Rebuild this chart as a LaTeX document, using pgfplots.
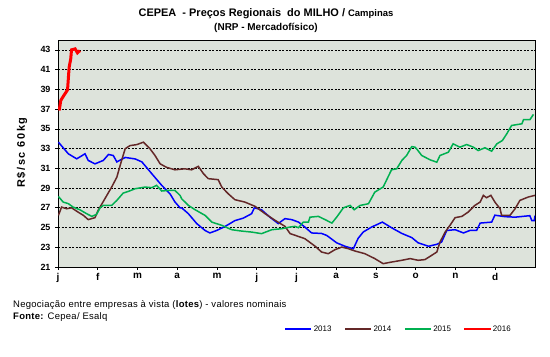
\documentclass[border=0pt]{standalone}
\usepackage{pgfplots}
\pgfplotsset{compat=1.18}
\usepackage{fontspec}
\setmainfont{Liberation Sans}
\definecolor{bg}{RGB}{221,227,219}
\definecolor{c13}{RGB}{0,0,255}
\definecolor{c14}{RGB}{100,40,40}
\definecolor{c15}{RGB}{0,176,80}
\definecolor{c16}{RGB}{255,0,0}
\pgfplotstableread{
x y
0.01 33.65
0.26 32.47
0.47 31.96
0.68 32.47
0.76 31.80
0.93 31.45
1.14 31.80
1.27 32.40
1.39 32.30
1.48 31.65
1.69 32.10
1.94 31.95
2.11 31.65
2.36 30.45
2.61 29.27
2.82 28.40
2.94 27.60
3.07 27.00
3.11 27.00
3.28 26.40
3.49 25.40
3.70 24.70
3.82 24.45
3.99 24.70
4.20 25.10
4.45 25.70
4.66 25.95
4.87 26.40
4.94 27.00
5.12 26.80
5.33 26.05
5.54 25.40
5.71 25.90
5.88 25.80
6.05 25.55
6.21 25.05
6.38 24.45
6.63 24.40
6.76 24.20
7.01 23.45
7.22 23.10
7.43 22.85
7.55 23.90
7.68 24.55
7.89 25.05
8.16 25.55
8.39 24.98
8.65 24.40
8.90 23.98
9.06 23.45
9.32 23.10
9.53 23.30
9.65 23.53
9.78 24.70
9.99 24.78
10.20 24.45
10.36 24.70
10.53 24.70
10.62 25.45
10.91 25.55
10.99 26.25
11.25 26.10
11.50 26.05
11.87 26.20
11.92 25.70
11.98 25.70
12.00 26.20
}\tblA
\pgfplotstableread{
x y
0.01 26.23
0.09 27.07
0.22 26.90
0.34 27.00
0.51 26.55
0.64 26.23
0.76 25.80
0.93 26.00
1.01 26.74
1.18 27.92
1.35 29.10
1.48 30.10
1.60 31.80
1.69 32.98
1.81 33.30
1.98 33.40
2.15 33.65
2.31 33.00
2.44 32.30
2.57 31.45
2.73 31.10
2.94 30.85
3.19 30.95
3.36 30.85
3.53 31.20
3.66 30.45
3.78 29.95
4.03 29.85
4.12 29.10
4.28 28.43
4.45 27.82
4.70 27.58
4.96 27.14
5.21 26.40
5.46 25.73
5.71 25.12
5.84 24.38
6.09 24.04
6.21 23.87
6.47 23.10
6.63 22.52
6.80 22.35
6.97 22.76
7.14 23.02
7.30 22.86
7.47 22.62
7.72 22.35
7.97 21.85
8.18 21.34
8.39 21.50
8.65 21.68
8.86 21.85
9.06 21.68
9.23 21.75
9.40 22.18
9.53 22.52
9.61 23.53
9.74 24.54
9.86 25.22
9.99 26.00
10.16 26.13
10.32 26.57
10.49 27.25
10.62 27.58
10.70 28.26
10.78 28.02
10.89 28.26
10.99 27.58
11.12 26.91
11.16 26.23
11.37 26.23
11.50 26.91
11.62 27.75
11.83 28.09
12.00 28.26
}\tblB
\pgfplotstableread{
x y
0.01 28.15
0.13 27.58
0.26 27.42
0.38 27.07
0.55 26.80
0.72 26.40
0.85 26.13
0.97 26.33
1.06 27.00
1.14 27.24
1.35 27.24
1.48 27.75
1.64 28.49
1.77 28.66
1.94 28.93
2.19 29.10
2.36 29.04
2.48 29.27
2.61 28.70
2.77 28.76
2.94 28.76
3.07 28.26
3.11 27.92
3.28 27.24
3.45 26.80
3.70 26.23
3.87 25.55
4.12 25.22
4.37 24.78
4.62 24.64
4.87 24.54
5.12 24.38
5.38 24.78
5.63 24.88
5.84 25.05
5.96 25.12
6.05 24.98
6.17 25.55
6.30 25.55
6.34 26.05
6.55 26.13
6.72 25.80
6.89 25.45
7.01 26.05
7.18 27.00
7.35 27.24
7.45 26.80
7.60 27.24
7.81 27.41
7.97 28.59
8.18 29.10
8.39 30.85
8.52 30.95
8.65 31.80
8.77 32.30
8.90 33.20
8.98 33.14
9.02 32.98
9.15 32.30
9.36 31.86
9.53 31.62
9.61 32.30
9.82 32.63
9.94 33.48
10.11 33.14
10.28 33.41
10.45 33.14
10.57 32.80
10.74 33.08
10.91 32.74
11.04 33.48
11.18 33.82
11.29 34.50
11.41 35.34
11.67 35.51
11.71 35.92
11.87 35.92
11.96 36.46
}\tblC
\pgfplotstableread{
x y
0.03 36.86
0.07 37.87
0.13 38.27
0.24 38.95
0.28 41.23
0.32 42.08
0.34 43.00
0.43 43.10
0.49 42.70
0.55 42.93
}\tblD
\begin{document}
\begin{tikzpicture}[x=1bp,y=1bp]
\useasboundingbox (0,0) rectangle (550,356);
\begin{axis}[
  at={(58bp,89bp)}, anchor=south west,
  scale only axis, width=477bp, height=227bp,
  xmin=0, xmax=12, ymin=21, ymax=44,
  xtick={0,...,11},
  xticklabels={j,f,m,a,m,j,j,a,s,o,n,d},
  ytick={21,23,...,43},
  ymajorgrids,
  grid style={black, dash pattern=on 2bp off 1.5bp, line width=0.6bp},
  axis background/.style={fill=bg},
  axis line style={black, line width=0.8bp},
  tick align=outside, tick pos=left, major tick length=3bp,
  tick style={black, line width=0.6bp},
  /pgf/number format/assume math mode=true,
  yticklabel style={font=\fontsize{9}{10}\selectfont\bfseries, xshift=-1bp},
  xticklabel style={font=\fontsize{10}{11}\selectfont\bfseries},
  legend style={at={(axis description cs:0.474,-0.273)}, anchor=west,
    draw=none, fill=none, inner sep=0pt,
    font=\fontsize{8}{9}\selectfont,
    nodes={inner sep=1.5bp},
    /tikz/every even column/.append style={column sep=11bp}},
  legend columns=4,
  legend image code/.code={\draw[#1, line width=2bp] (0bp,0bp) -- (26bp,0bp);},
]
\addplot[c13, line width=1.5bp] table[x=x,y=y] {\tblA};
\addlegendentry{2013}
\addplot[c14, line width=1.5bp] table[x=x,y=y] {\tblB};
\addlegendentry{2014}
\addplot[c15, line width=1.5bp] table[x=x,y=y] {\tblC};
\addlegendentry{2015}
\addplot[c16, line width=3bp] table[x=x,y=y] {\tblD};
\addlegendentry{2016}
\end{axis}
\node[font=\fontsize{11}{13}\selectfont\bfseries] at (266,342) {CEPEA \ - Preços Regionais \ do MILHO / {\fontsize{9.5}{11}\selectfont Campinas}};
\node[font=\fontsize{10}{12}\selectfont\bfseries] at (266,328) {(NRP - Mercadofísico)};
\node[rotate=90, font=\fontsize{11}{12}\selectfont\bfseries\addfontfeature{LetterSpace=15}] at (22,203.5) {R\$/sc 60kg};
\node[anchor=west, font=\fontsize{9.5}{11}\selectfont\addfontfeature{LetterSpace=3}, inner sep=0pt] at (13,51) {Negociação entre empresas à vista (\textbf{lotes}) - valores nominais};
\node[anchor=west, font=\fontsize{9.5}{11}\selectfont\addfontfeature{LetterSpace=3}, inner sep=0pt] at (13,38.5) {\textbf{Fonte:} Cepea/ Esalq};
\end{tikzpicture}
\end{document}
